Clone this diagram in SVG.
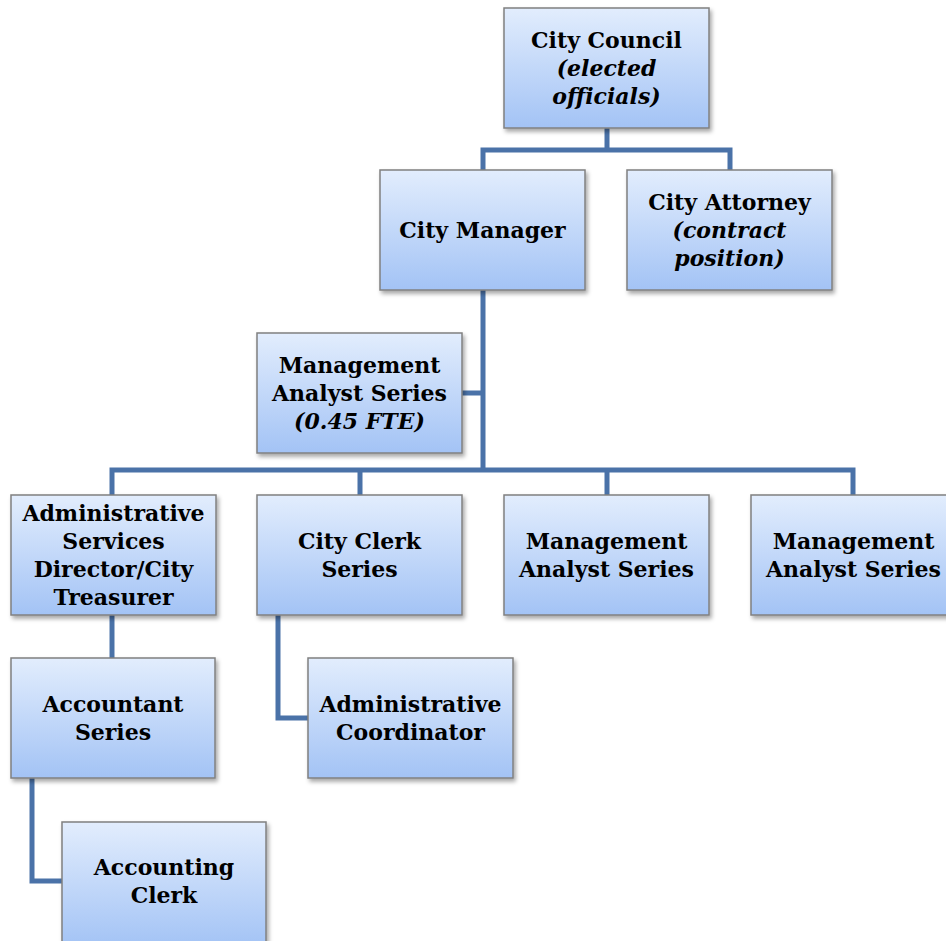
<svg xmlns="http://www.w3.org/2000/svg" width="946" height="941" viewBox="0 0 946 941">
<defs>
<linearGradient id="g" x1="0" y1="0" x2="0" y2="1">
<stop offset="0" stop-color="#e2edfd"/>
<stop offset="1" stop-color="#a3c3f5"/>
</linearGradient>
<filter id="sh" x="-10%" y="-10%" width="125%" height="125%">
<feDropShadow dx="2" dy="3" stdDeviation="2" flood-color="#000" flood-opacity="0.35"/>
</filter>
</defs>
<style>
.box{fill:url(#g);stroke:#808080;stroke-width:1.5;filter:url(#sh)}
.t{font-family:"DejaVu Serif","Liberation Serif",serif;font-weight:bold;font-size:22px;fill:#000;text-anchor:middle}
.i{font-style:italic}
.c{fill:none;stroke:#4a72a8;stroke-width:5;stroke-linejoin:miter}
</style>
<rect width="946" height="941" fill="#fff"/>
<g id="connectors">
<path class="c" d="M607,128 V150 M483,170 V150 H730 V170"/>
<path class="c" d="M483,290 V470 M462,393 H483 M112,495 V470 H853 V495 M360,470 V495 M607,470 V495"/>
<path class="c" d="M112,615 V658"/>
<path class="c" d="M278,615 V718 H308"/>
<path class="c" d="M32,778 V881 H62"/>
</g>
<g id="city-council">
<rect class="box" x="504" y="8" width="205" height="120"/>
<text class="t" x="606.5" y="48">City Council</text>
<text class="t i" x="606.5" y="76">(elected</text>
<text class="t i" x="606.5" y="104">officials)</text>
</g>
<g id="city-manager">
<rect class="box" x="380" y="170" width="205" height="120"/>
<text class="t" x="482.5" y="238">City Manager</text>
</g>
<g id="city-attorney">
<rect class="box" x="627" y="170" width="205" height="120"/>
<text class="t" x="729.5" y="210">City Attorney</text>
<text class="t i" x="729.5" y="238">(contract</text>
<text class="t i" x="729.5" y="266">position)</text>
</g>
<g id="mas-045">
<rect class="box" x="257" y="333" width="205" height="120"/>
<text class="t" x="359.5" y="373">Management</text>
<text class="t" x="359.5" y="401">Analyst Series</text>
<text class="t i" x="359.5" y="429">(0.45 FTE)</text>
</g>
<g id="admin-services">
<rect class="box" x="11" y="495" width="205" height="120"/>
<text class="t" x="113.5" y="521">Administrative</text>
<text class="t" x="113.5" y="549">Services</text>
<text class="t" x="113.5" y="577">Director/City</text>
<text class="t" x="113.5" y="605">Treasurer</text>
</g>
<g id="city-clerk">
<rect class="box" x="257" y="495" width="205" height="120"/>
<text class="t" x="359.5" y="549">City Clerk</text>
<text class="t" x="359.5" y="577">Series</text>
</g>
<g id="mas-1">
<rect class="box" x="504" y="495" width="205" height="120"/>
<text class="t" x="606.5" y="549">Management</text>
<text class="t" x="606.5" y="577">Analyst Series</text>
</g>
<g id="mas-2">
<rect class="box" x="751" y="495" width="205" height="120"/>
<text class="t" x="853.5" y="549">Management</text>
<text class="t" x="853.5" y="577">Analyst Series</text>
</g>
<g id="accountant">
<rect class="box" x="11" y="658" width="204" height="120"/>
<text class="t" x="113" y="712">Accountant</text>
<text class="t" x="113" y="740">Series</text>
</g>
<g id="admin-coordinator">
<rect class="box" x="308" y="658" width="205" height="120"/>
<text class="t" x="410.5" y="712">Administrative</text>
<text class="t" x="410.5" y="740">Coordinator</text>
</g>
<g id="accounting-clerk">
<rect class="box" x="62" y="822" width="204" height="125"/>
<text class="t" x="164" y="875">Accounting</text>
<text class="t" x="164" y="903">Clerk</text>
</g>
</svg>
